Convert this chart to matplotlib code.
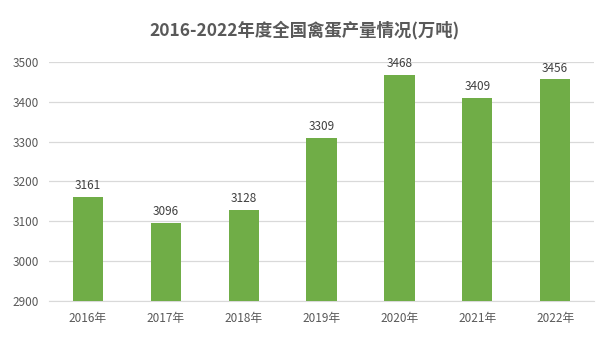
import matplotlib
matplotlib.use("Agg")
import matplotlib.pyplot as plt

plt.rcParams['font.family'] = ['Noto Sans CJK SC', 'DejaVu Sans']

years = ['2016年', '2017年', '2018年', '2019年', '2020年', '2021年', '2022年']
output = [3161, 3096, 3128, 3309, 3468, 3409, 3456]
y_ticks = [2900, 3000, 3100, 3200, 3300, 3400, 3500]

fig = plt.figure(figsize=(6.09, 3.5), dpi=100)
ax = fig.add_axes([0.0805, 0.14, 0.895, 0.683])

x = range(len(years))
bars = ax.bar(x, output, width=0.39, color='#70AD47', zorder=3)

for bar, v in zip(bars, output):
  ax.text(bar.get_x() + bar.get_width() / 2, v + 12, str(v),
          ha='center', va='bottom', fontsize=8.5, color='#404040')

ax.set_ylim(2900, 3500)
ax.set_xlim(-0.5, len(years) - 0.5)
ax.set_yticks(y_ticks)
ax.set_xticks(list(x))
ax.set_xticklabels(years)
ax.yaxis.grid(True, color='#d9d9d9', linewidth=0.9, zorder=0)
ax.tick_params(axis='both', length=0, labelsize=8.5, labelcolor='#595959')
ax.tick_params(axis='x', pad=8)
ax.tick_params(axis='y', pad=7)
for s in ['top', 'right', 'left']:
  ax.spines[s].set_visible(False)
ax.spines['bottom'].set_color('#d9d9d9')

fig.suptitle('2016-2022年度全国禽蛋产量情况(万吨)', x=0.5, y=0.94,
             fontsize=12.5, fontweight='bold', color='#595959')

fig.savefig('out.png', dpi=100)
